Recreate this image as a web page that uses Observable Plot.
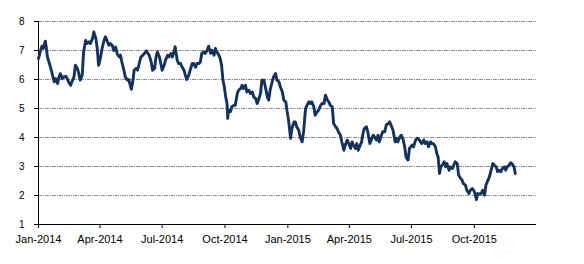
<!DOCTYPE html>
<html>
<head>
<meta charset="utf-8">
<script src="https://cdn.jsdelivr.net/npm/d3@7"></script>
<script src="https://cdn.jsdelivr.net/npm/@observablehq/plot@0.6"></script>
<style>
  html, body { margin: 0; padding: 0; background: #fff; }
  #chart svg { display: block; }
</style>
</head>
<body>
<div id="chart"></div>
<script>
const dates = [
"2014-01-01","2014-01-03","2014-01-06","2014-01-08","2014-01-11","2014-01-13","2014-01-14","2014-01-17","2014-01-19","2014-01-21",
"2014-01-24","2014-01-26","2014-01-29","2014-01-31","2014-02-02","2014-02-05","2014-02-07","2014-02-10","2014-02-12","2014-02-14",
"2014-02-17","2014-02-19","2014-02-22","2014-02-24","2014-02-27","2014-03-01","2014-03-03","2014-03-06","2014-03-08","2014-03-11",
"2014-03-13","2014-03-16","2014-03-18","2014-03-21","2014-03-23","2014-03-26","2014-03-28","2014-03-30","2014-04-02","2014-04-04",
"2014-04-07","2014-04-09","2014-04-12","2014-04-14","2014-04-16","2014-04-19","2014-04-21","2014-04-24","2014-04-26","2014-04-29",
"2014-05-01","2014-05-03","2014-05-06","2014-05-08","2014-05-11","2014-05-13","2014-05-16","2014-05-17","2014-05-19","2014-05-21",
"2014-05-24","2014-05-26","2014-05-29","2014-05-31","2014-06-03","2014-06-05","2014-06-08","2014-06-10","2014-06-12","2014-06-15",
"2014-06-17","2014-06-20","2014-06-22","2014-06-24","2014-06-27","2014-06-29","2014-07-01","2014-07-04","2014-07-06","2014-07-09",
"2014-07-11","2014-07-14","2014-07-16","2014-07-19","2014-07-20","2014-07-23","2014-07-25","2014-07-28","2014-07-30","2014-08-02",
"2014-08-04","2014-08-06","2014-08-09","2014-08-11","2014-08-14","2014-08-16","2014-08-19","2014-08-21","2014-08-24","2014-08-26",
"2014-08-28","2014-08-31","2014-09-02","2014-09-05","2014-09-07","2014-09-10","2014-09-12","2014-09-15","2014-09-17","2014-09-19",
"2014-09-22","2014-09-24","2014-09-26","2014-09-28","2014-09-30","2014-10-02","2014-10-04","2014-10-05","2014-10-06","2014-10-09",
"2014-10-11","2014-10-14","2014-10-16","2014-10-19","2014-10-21","2014-10-24","2014-10-26","2014-10-28","2014-10-31","2014-11-02",
"2014-11-05","2014-11-07","2014-11-10","2014-11-12","2014-11-15","2014-11-17","2014-11-19","2014-11-22","2014-11-24","2014-11-27",
"2014-11-29","2014-12-02","2014-12-04","2014-12-06","2014-12-09","2014-12-11","2014-12-14","2014-12-16","2014-12-19","2014-12-21",
"2014-12-24","2014-12-26","2014-12-29","2014-12-31","2015-01-02","2015-01-05","2015-01-07","2015-01-10","2015-01-12","2015-01-14",
"2015-01-17","2015-01-19","2015-01-22","2015-01-24","2015-01-27","2015-01-29","2015-02-01","2015-02-03","2015-02-05","2015-02-08",
"2015-02-10","2015-02-13","2015-02-15","2015-02-18","2015-02-20","2015-02-23","2015-02-25","2015-02-28","2015-03-02","2015-03-04",
"2015-03-07","2015-03-09","2015-03-12","2015-03-14","2015-03-16","2015-03-19","2015-03-21","2015-03-24","2015-03-26","2015-03-29",
"2015-03-31","2015-04-03","2015-04-05","2015-04-07","2015-04-10","2015-04-12","2015-04-14","2015-04-16","2015-04-19","2015-04-21",
"2015-04-23","2015-04-26","2015-04-28","2015-05-01","2015-05-03","2015-05-06","2015-05-08","2015-05-11","2015-05-13","2015-05-15",
"2015-05-18","2015-05-20","2015-05-23","2015-05-25","2015-05-28","2015-05-30","2015-06-02","2015-06-04","2015-06-07","2015-06-09",
"2015-06-11","2015-06-14","2015-06-16","2015-06-19","2015-06-21","2015-06-23","2015-06-26","2015-06-28","2015-07-02","2015-07-04",
"2015-07-07","2015-07-09","2015-07-12","2015-07-14","2015-07-16","2015-07-19","2015-07-21","2015-07-24","2015-07-26","2015-07-29",
"2015-07-31","2015-08-02","2015-08-05","2015-08-07","2015-08-09","2015-08-11","2015-08-13","2015-08-15","2015-08-18","2015-08-20",
"2015-08-22","2015-08-25","2015-08-27","2015-08-30","2015-09-01","2015-09-03","2015-09-06","2015-09-08","2015-09-11","2015-09-13",
"2015-09-15","2015-09-18","2015-09-20","2015-09-23","2015-09-25","2015-09-28","2015-09-30","2015-10-02","2015-10-04","2015-10-06",
"2015-10-08","2015-10-11","2015-10-13","2015-10-16","2015-10-18","2015-10-21","2015-10-23","2015-10-25","2015-10-28","2015-10-30",
"2015-11-02","2015-11-04","2015-11-06","2015-11-09","2015-11-11","2015-11-14","2015-11-16","2015-11-18","2015-11-21","2015-11-23",
"2015-11-25","2015-11-28","2015-11-30"
];
const values = [
6.72,6.9,7.15,7.07,7.32,7.0,6.78,6.55,6.38,6.2,
5.92,6.03,5.86,6.09,6.2,6.03,6.09,6.11,6.03,5.92,
5.8,5.92,6.09,6.49,6.38,6.2,5.98,6.15,6.95,7.35,
7.24,7.3,7.24,7.41,7.64,7.41,7.07,6.49,6.78,7.07,
7.35,7.47,7.3,7.18,7.24,7.18,7.0,7.12,6.9,6.78,
6.84,6.61,6.32,6.09,5.98,6.0,5.75,5.66,5.92,6.32,
6.38,6.32,6.61,6.78,6.84,6.9,6.99,6.9,6.84,6.61,
6.32,6.38,6.78,6.95,6.78,6.55,6.32,6.49,6.67,6.84,
6.78,6.9,6.78,7.01,7.13,6.67,6.55,6.55,6.44,6.32,
6.15,6.0,6.15,6.32,6.55,6.55,6.42,6.55,6.55,6.61,
6.9,6.95,6.9,7.01,7.15,6.9,7.01,6.84,7.07,6.95,
6.84,6.72,6.49,5.98,5.75,5.4,5.17,4.66,4.94,4.89,
5.06,5.11,5.11,5.52,5.63,5.69,5.8,5.69,5.8,5.57,
5.63,5.52,5.57,5.4,5.34,5.17,5.29,5.52,5.98,5.98,
5.75,5.4,5.29,5.63,5.92,6.09,6.21,5.98,5.92,5.75,
5.57,5.29,5.23,4.89,4.6,3.97,4.31,4.54,4.54,4.37,
4.25,4.02,3.85,4.2,5.0,5.11,5.23,5.17,5.23,5.06,
4.77,4.89,4.94,5.11,5.17,5.17,5.46,5.29,5.23,5.11,
5.06,4.48,4.37,4.31,4.2,4.08,3.85,3.56,3.74,3.91,
3.79,3.62,3.85,3.74,3.62,3.79,3.56,3.68,3.85,4.14,
4.31,4.37,4.2,3.79,3.91,4.08,4.02,3.91,4.08,3.85,
4.08,4.2,4.2,4.43,4.48,4.54,4.37,4.25,3.85,3.97,
3.85,4.02,4.08,3.91,3.68,3.33,3.22,3.62,3.74,3.68,
3.91,3.97,3.93,3.85,3.79,3.91,3.79,3.85,3.68,3.85,
3.79,3.79,3.68,3.45,3.33,2.76,2.99,3.05,3.16,2.99,
3.1,2.87,2.99,2.93,3.05,3.16,3.1,2.7,2.59,2.53,
2.41,2.36,2.18,2.07,2.18,2.24,2.18,2.07,1.86,2.07,
2.05,2.07,2.18,2.01,2.36,2.53,2.64,2.82,3.1,3.05,
2.99,2.82,2.87,2.82,2.93,2.99,2.87,2.99,3.05,3.13,
3.1,2.99,2.76
];
const xTicks = ["2014-01-01","2014-04-01","2014-07-01","2014-10-01","2015-01-01","2015-04-01","2015-07-01","2015-10-01"];
const xDomain = ["2014-01-01","2015-12-31"];
const yTicks = [1,2,3,4,5,6,7,8];
const yGrid = [2,3,4,5,6,7,8];

const data = dates.map((d, i) => ({date: new Date(d), value: values[i]}));
const fmt = d3.utcFormat("%b-%Y");

const chart = Plot.plot({
  width: 584,
  height: 264,
  marginLeft: 38,
  marginRight: 48,
  marginTop: 21,
  marginBottom: 40,
  style: {fontFamily: "'Liberation Sans', Arial, sans-serif", background: "#fff", color: "#000"},
  x: {type: "utc", domain: xDomain.map(d => new Date(d))},
  y: {domain: [1, 8]},
  marks: [
    Plot.gridY(yGrid, {stroke: "#8c8c8c", strokeOpacity: 1, strokeWidth: 1, strokeDasharray: "4,1,1,1"}),
    Plot.ruleY([1], {stroke: "#000", strokeWidth: 1}),
    Plot.ruleX([new Date(xDomain[0])], {stroke: "#000", strokeWidth: 1}),
    Plot.axisX(xTicks.map(d => new Date(d)), {tickSize: 4, tickPadding: 7, tickFormat: fmt, label: null, fontSize: 11, stroke: "#000"}),
    Plot.axisY(yTicks, {tickSize: 4, tickPadding: 10, label: null, fontSize: 10, stroke: "#000"}),
    Plot.line(data, {x: "date", y: "value", stroke: "#14325c", strokeWidth: 2.9, strokeLinejoin: "round"})
  ]
});
document.getElementById("chart").appendChild(chart);
</script>
</body>
</html>
